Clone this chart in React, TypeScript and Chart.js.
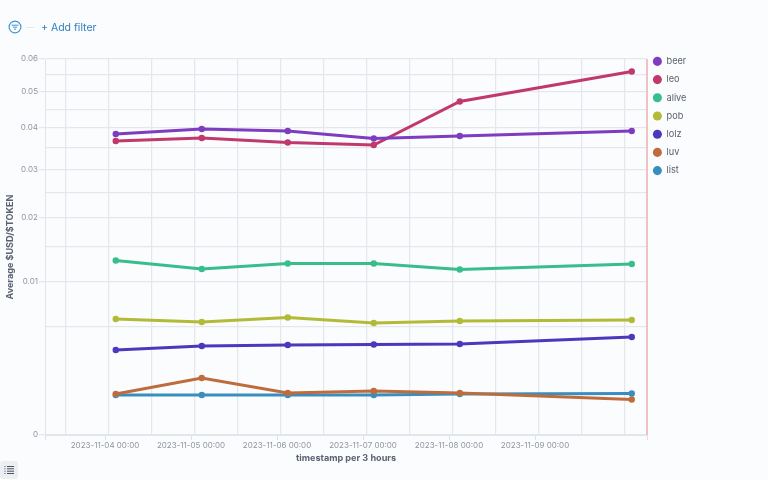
import React, { useEffect, useRef } from "react";
import { Chart, registerables, LinearScale } from "chart.js";

class SqrtScale extends LinearScale {
  static id = "sqrt";
  static defaults = LinearScale.defaults;
  getPixelForValue(v: number) {
    return this.getPixelForDecimal(Math.sqrt(Math.max(v, 0)) / Math.sqrt(this.max));
  }
  getValueForPixel(p: number) {
    const d = this.getDecimalForPixel(p) * Math.sqrt(this.max);
    return d * d;
  }
}
Chart.register(...registerables, SqrtScale);

const FONT = "Inter, 'Noto Sans', sans-serif";
const HOUR = 3600000;

const timestamps = [
  "2023-11-04T03:00:00Z",
  "2023-11-05T03:00:00Z",
  "2023-11-06T03:00:00Z",
  "2023-11-07T03:00:00Z",
  "2023-11-08T03:00:00Z",
  "2023-11-10T03:00:00Z",
];
const dayTicks = [
  "2023-11-04T00:00:00Z",
  "2023-11-05T00:00:00Z",
  "2023-11-06T00:00:00Z",
  "2023-11-07T00:00:00Z",
  "2023-11-08T00:00:00Z",
  "2023-11-09T00:00:00Z",
];
const axisStart = "2023-11-03T07:15:00Z";
const axisEnd = "2023-11-10T07:15:00Z";
const firstGridLine = "2023-11-03T13:00:00Z";

const beer = [0.03845, 0.03974, 0.03922, 0.03731, 0.03794, 0.03922];
const leo = [0.03668, 0.03744, 0.03631, 0.03569, 0.0472, 0.05608];
const alive = [0.01292, 0.0117, 0.01248, 0.01248, 0.01162, 0.01241];
const pob = [0.00571, 0.00542, 0.00586, 0.00532, 0.00552, 0.00561];
const lolz = [0.00307, 0.00336, 0.00344, 0.00348, 0.00351, 0.00408];
const luv = [0.000713, 0.00138, 0.000749, 0.000822, 0.000749, 0.000535];
const list = [0.000679, 0.000679, 0.000679, 0.000679, 0.000713, 0.000731];

const seriesNames = ["beer", "leo", "alive", "pob", "lolz", "luv", "list"];
const seriesValues = [beer, leo, alive, pob, lolz, luv, list];
const seriesColors = ["#7e3cbf", "#c1386c", "#38bd8c", "#b2bb35", "#4c38bd", "#bf6c3c", "#3a8ebf"];

const ms = (s: string) => Date.parse(s);
const fmt = (v: number) => new Date(v).toISOString().slice(0, 16).replace("T", " ");

export default function App() {
  const ref = useRef<HTMLCanvasElement>(null);
  useEffect(() => {
    const xMin = ms(axisStart);
    const xMax = ms(axisEnd);
    const gridColor = "#e5e7ec";
    const tickText = "#8f95a1";
    const placeLegend = {
      id: "placeLegend",
      afterLayout(c: any) {
        const l = c.legend;
        l.left = 643.9;
        l.right = 768;
        l.top = 47.8;
        l.bottom = 200;
        l.width = 124.1;
        l.height = 152.2;
      },
    };
    const marker = {
      id: "marker",
      beforeDatasetsDraw(c: any) {
        const x = c.scales.x.getPixelForValue(xMax);
        const { ctx, chartArea } = c;
        ctx.save();
        ctx.strokeStyle = "#ebb0b0";
        ctx.lineWidth = 1.5;
        ctx.beginPath();
        ctx.moveTo(x, chartArea.top);
        ctx.lineTo(x, chartArea.bottom);
        ctx.stroke();
        ctx.restore();
      },
    };
    const chart = new Chart(ref.current!, {
      type: "line",
      data: {
        datasets: seriesNames.map((n, i) => ({
          label: n,
          data: seriesValues[i].map((y, j) => ({ x: ms(timestamps[j]), y })),
          borderColor: seriesColors[i],
          backgroundColor: seriesColors[i],
          borderWidth: 3,
          pointRadius: 3.2,
          pointBorderWidth: 0,
          tension: 0,
          clip: false,
        })),
      },
      options: {
        animation: false,
        responsive: false,
        layout: { padding: { left: 0, right: 121, top: 59, bottom: 0 } },
        plugins: {
          tooltip: { enabled: false },
          legend: {
            position: "chartArea",
            align: "start",
            labels: {
              usePointStyle: true,
              pointStyle: "circle",
              boxWidth: 9,
              boxHeight: 6.4,
              padding: 9,
              color: "#5a616d",
              font: { family: FONT, size: 9.2 },
            },
          },
        },
        scales: {
          x: {
            type: "linear",
            min: xMin,
            max: xMax,
            afterBuildTicks(s: any) {
              s.ticks = [xMin, ...dayTicks.map(ms), xMax].map((value) => ({ value }));
            },
            afterFit(s: any) {
              s.height = 45;
            },
            ticks: {
              autoSkip: false,
              maxRotation: 0,
              padding: 1,
              color: tickText,
              font: { family: FONT, size: 8 },
              callback: (v: any) => (v === xMin || v === xMax ? "" : fmt(Number(v))),
            },
            grid: { drawOnChartArea: false, color: gridColor, tickLength: 5, tickColor: "#dfe2e8" },
            border: { color: "#e2e4ea", width: 1 },
            title: {
              display: true,
              text: "timestamp per 3 hours",
              color: "#5a6272",
              padding: { top: 0, bottom: 16 },
              font: { family: FONT, size: 9.1, weight: "bold" },
            },
          },
          x2: {
            type: "linear",
            position: "bottom",
            min: xMin,
            max: xMax,
            afterBuildTicks(s: any) {
              const out: any[] = [];
              for (let v = ms(firstGridLine); v < xMax; v += 12 * HOUR) out.push({ value: v });
              s.ticks = out;
            },
            afterFit(s: any) {
              s.height = 0;
            },
            ticks: { display: false, autoSkip: false },
            grid: { color: gridColor, lineWidth: 1.2, drawTicks: false },
            border: { display: false },
          },
          y: {
            type: "sqrt",
            min: 0,
            max: 0.06,
            afterFit(s: any) {
              s.width = 45;
            },
            ticks: {
              stepSize: 0.005,
              autoSkip: false,
              padding: 1,
              color: tickText,
              font: { family: FONT, size: 8 },
              callback: (v: any) => {
                const n = Math.round(Number(v) * 1000);
                if (n % 10 !== 0) return "";
                return n === 0 ? "0" : (n / 1000).toFixed(2);
              },
            },
            grid: {
              color: gridColor,
              lineWidth: 1.2,
              tickLength: 6,
              tickColor: (c: any) =>
                Math.round(c.tick.value * 1000) % 10 === 0 ? gridColor : "rgba(0,0,0,0)",
            },
            border: { color: "#e2e4ea", width: 1 },
            title: {
              display: true,
              text: "Average $USD/$TOKEN",
              color: "#5a6272",
              padding: { top: 4.5, bottom: 0 },
              font: { family: FONT, size: 9.1, weight: "bold" },
            },
          },
        },
      } as any,
      plugins: [placeLegend, marker],
    });
    return () => chart.destroy();
  }, []);

  return (
    <div style={{ position: "fixed", left: 0, top: 0, width: 768, height: 480, background: "#fbfcfe", overflow: "hidden", fontFamily: FONT }}>
      <canvas ref={ref} width={768} height={480} style={{ position: "absolute", left: 0, top: 0, width: 768, height: 480 }} />
      <svg width="16" height="16" viewBox="0 0 16 16" style={{ position: "absolute", left: 7, top: 19 }}>
        <circle cx="8" cy="8" r="5.9" fill="none" stroke="#3f97cf" strokeWidth="1.2" />
        <path d="M4.6 6.2h6.8M5.9 8.2h4.2M7 10.2h2" stroke="#3f97cf" strokeWidth="1" fill="none" />
      </svg>
      <div style={{ position: "absolute", left: 26, top: 26.5, width: 8, height: 1, background: "#e4e7ec" }} />
      <div style={{ position: "absolute", left: 41, top: 20, fontSize: 10.5, lineHeight: "16px", color: "#2f7fbd" }}>+ Add filter</div>
      <div style={{ position: "absolute", left: 0, top: 461, width: 18, height: 18, background: "#eceef2", borderRadius: 3 }}>
        <svg width="18" height="18" viewBox="0 0 18 18">
          <path d="M7 5.5h7M7 7.8h7M7 10.2h7M7 12.5h7M4.5 5.5h1M4.5 7.8h1M4.5 10.2h1M4.5 12.5h1" stroke="#4a5160" strokeWidth="1" fill="none" />
        </svg>
      </div>
    </div>
  );
}
